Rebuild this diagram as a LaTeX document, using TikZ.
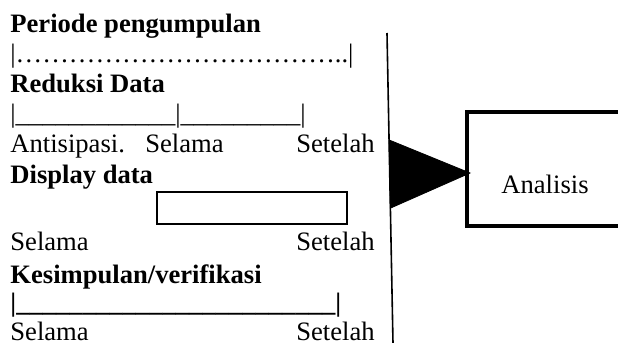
\documentclass[tikz,border=0pt]{standalone}
\usepackage{fontspec}
\setmainfont{Liberation Serif}
\usetikzlibrary{calc,positioning}
\tikzset{
  txt/.style={font=\fontsize{13.3}{15}\selectfont, inner sep=0pt, anchor=base west},
  ttl/.style={txt, font=\fontsize{13.3}{15}\selectfont\bfseries},
  rgt/.style={txt, anchor=base east},
  divider/.style={draw=black, line width=0.8pt},
  displaybox/.style={draw=black, line width=1.15pt},
  procbox/.style={draw=black, line width=2pt, minimum width=78pt, minimum height=57pt, inner sep=0pt},
  wedge/.style={fill=black, draw=black, line width=0.4pt},
}
\newcommand{\TimeRow}[2]{%
  \node[txt] (#1sel) at (10,#2) {Selama};
  \node[rgt] (#1set) at (375,#2) {Setelah};
}

\begin{document}
\begin{tikzpicture}[x=0.5pt,y=-0.5pt]
  \useasboundingbox (0,0) rectangle (618,343);
  \clip (0,0) rectangle (618,343);
  % kolom kiri
  \node[ttl] (periode) at (10,32) {Periode pengumpulan};
  \node[txt] (periodeLine) at (10,62) {|………………………………..|};
  \node[ttl] (reduksi) at (10,92) {Reduksi Data};
  \node[txt] (reduksiLine) at (10,122) {|\_\_\_\_\_\_\_\_\_\_\_\_|\_\_\_\_\_\_\_\_\_|};
  \node[txt] (antis) at (10,152) {Antisipasi.};
  \node[txt] (redsel) at (145,152) {Selama};
  \node[rgt] (redset) at (375,152) {Setelah};
  \node[ttl] (display) at (10,183) {Display data};
  \node[displaybox, minimum width=95pt, minimum height=16pt, inner sep=0pt] (displayBox) at (252,208) {};
  \TimeRow{disp}{250}
  \node[ttl] (kesimpulan) at (10,283) {Kesimpulan/verifikasi};
  \node[ttl] (kesLine) at (10,311) {|\_\_\_\_\_\_\_\_\_\_\_\_\_\_\_\_\_\_\_\_\_\_\_\_|};
  \TimeRow{kes}{340}
  % garis pemisah dan panah
  \coordinate (vtop) at (387,33);
  \coordinate (vbot) at (393,343);
  \draw[divider] (vtop) -- (vbot);
  \node[procbox] (analisis) at (545,169) {};
  \node[txt, anchor=base] (analisisLbl) at (545,193) {Analisis};
  \coordinate (wedgeTip) at ($(analisis.west)+(5,4)$);
  \fill[wedge] ($(vtop)!0.345!(vbot)$) -- ($(vtop)!0.565!(vbot)$) -- (wedgeTip) -- cycle;
\end{tikzpicture}
\end{document}
